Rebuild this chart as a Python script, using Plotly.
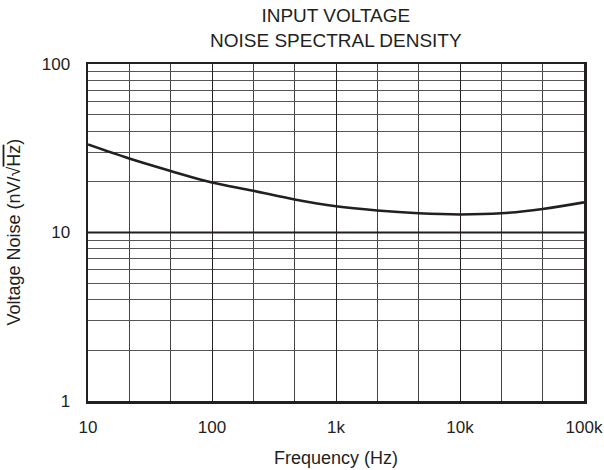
import plotly.graph_objects as go

freq_hz = [10, 21.5, 46.4, 100, 215, 464, 1000, 2150, 4640, 10000, 21500, 46400, 100000]
noise_nv = [33.3, 27.5, 23.2, 19.8, 17.7, 15.7, 14.3, 13.5, 13.0, 12.8, 13.0, 13.8, 15.1]

x_tick_vals = [10, 100, 1000, 10000, 100000]
x_tick_text = ["10", "100", "1k", "10k", "100k"]
x_minor_vals = [10 ** (1 + k / 3) for k in range(13)]
y_tick_vals = [1, 10, 100]
y_tick_text = ["1", "10", "100"]
y_minor_vals = [m * d for d in (1, 10) for m in range(2, 10)]

ink = "#231f20"
fig = go.Figure()
# thicker line at 10 nV
fig.add_trace(go.Scatter(x=[10, 100000], y=[10, 10], mode="lines",
                         line=dict(color=ink, width=2.2), showlegend=False, hoverinfo="skip"))
fig.add_trace(go.Scatter(x=freq_hz, y=noise_nv, mode="lines",
                         line=dict(color=ink, width=2.6, shape="spline"),
                         showlegend=False, hoverinfo="skip"))

fig.update_layout(
    width=604, height=470,
    margin=dict(l=88, r=20, t=64, b=69),
    paper_bgcolor="white", plot_bgcolor="white",
    font=dict(family="Liberation Sans, Arial, sans-serif", size=17, color=ink),
    annotations=[
        dict(text="INPUT VOLTAGE<br>NOISE SPECTRAL DENSITY", x=0.5, y=1.107,
             xref="paper", yref="paper", xanchor="center", yanchor="middle",
             showarrow=False, font=dict(size=19)),
        dict(text="Frequency (Hz)", x=0.5, y=-0.169, xref="paper", yref="paper",
             xanchor="center", yanchor="middle", showarrow=False, font=dict(size=18)),
        dict(text="Voltage Noise (nV/√<span style=\"text-decoration:overline\">Hz</span>)",
             x=-0.151, y=0.5, xref="paper", yref="paper", xanchor="center", yanchor="middle",
             textangle=-90, showarrow=False, font=dict(size=18)),
    ],
)
fig.update_xaxes(type="log", range=[1, 5], tickvals=x_tick_vals, ticktext=x_tick_text,
                 showgrid=True, gridcolor=ink, gridwidth=1,
                 minor=dict(tickvals=x_minor_vals, showgrid=True, gridcolor="#444", gridwidth=1, ticks=""),
                 showline=True, linecolor=ink, linewidth=2.5, mirror=True, ticks="",
                 ticklabelstandoff=9, automargin=False, zeroline=False)
fig.update_yaxes(type="log", range=[0, 2], tickvals=y_tick_vals, ticktext=y_tick_text,
                 showgrid=True, gridcolor=ink, gridwidth=1,
                 minor=dict(tickvals=y_minor_vals, showgrid=True, gridcolor="#555", gridwidth=1, ticks=""),
                 showline=True, linecolor=ink, linewidth=2.5, mirror=True, ticks="",
                 ticklabelstandoff=12, automargin=False, zeroline=False)

fig.write_html("out.html", config={"displayModeBar": False, "staticPlot": True})
with open("out.html", encoding="utf-8") as fh:
    page = fh.read()
page = page.replace("<body>", '<body style="margin:0;padding:0;overflow:hidden">', 1)
with open("out.html", "w", encoding="utf-8") as fh:
    fh.write(page)
